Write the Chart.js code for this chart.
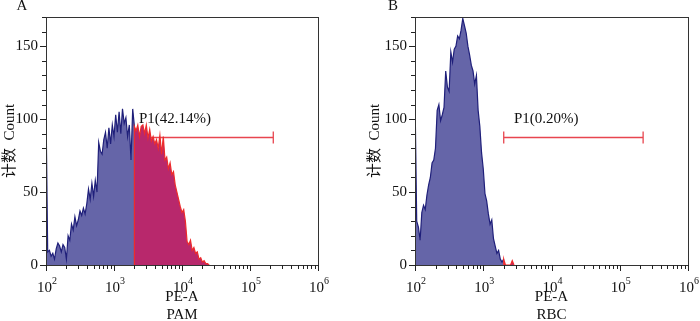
<!DOCTYPE html>
<html>
<head>
<meta charset="utf-8">
<script src="https://cdn.jsdelivr.net/npm/chart.js@4.4.1/dist/chart.umd.min.js"></script>
<style>
    body { margin: 0; background: #fff; width: 700px; height: 321px; overflow: hidden; position: relative; }
    .panel { position: absolute; top: 0; width: 350px; height: 321px; }
</style>
</head>
<body>
<div class="panel" style="left:0"><canvas id="chart-A"></canvas></div>
<div class="panel" style="left:350px"><canvas id="chart-B"></canvas></div>
<script>
// histogram channels: 40 bins per decade, first bin at 10^2
const binsPerDecade = 40;
const firstDecade = 2;
const gateStartBin = 52;        // P1 gate starts here (~2000)
const gateEnd = 220000;
const gateCount = 88;           // height where the gate bar is drawn

// PAM counts per bin
const countsPAM = [
    107, 9, 10, 6, 8, 4, 11, 15, 13, 9,
    14, 12, 4, 20, 17, 28, 24, 33, 27, 31,
    37, 34, 39, 35, 42, 52, 45, 56, 47, 58,
    50, 84, 78, 76, 86, 91, 80, 94, 83, 96,
    88, 103, 91, 105, 90, 107, 97, 101, 88, 96,
    72, 107, 95, 92, 96, 88, 95, 96, 90, 96,
    87, 93, 85, 88, 83, 86, 80, 89, 76, 88,
    72, 74, 66, 70, 62, 64, 55, 50, 45, 40,
    36, 38, 30, 16, 14, 17, 10, 12, 8, 9,
    4, 5, 2, 3, 1, 1, 0
];

// RBC counts per bin
const countsRBC = [
    116, 30, 26, 17, 36, 41, 38, 48, 55, 60,
    70, 72, 80, 106, 110, 99, 103, 108, 133, 122,
    119, 146, 139, 148, 150, 157, 155, 161, 169, 164,
    159, 150, 144, 137, 133, 124, 130, 106, 95, 77,
    66, 49, 44, 35, 28, 31, 18, 13, 8, 10,
    4, 2, 4, 0, 0, 0, 0, 3, 0
];

const panelLetters = ['A', 'B'];
const sampleNames = ['PAM', 'RBC'];
const gateLabels = ['P1(42.14%)', 'P1(0.20%)'];
const xTickExponents = ['2', '3', '4', '5', '6'];
const yTicks = [0, 50, 100, 150];

const FONT = '"Liberation Serif", "Noto Sans CJK SC", serif';
Chart.defaults.font.family = FONT;
Chart.defaults.color = '#111';

function binValue(i) {
    return Math.pow(10, firstDecade + i / binsPerDecade);
}

function toPoints(counts, from, to) {
    const pts = [];
    for (let i = from; i < to && i < counts.length; i++) {
        pts.push({ x: binValue(i), y: counts[i] });
    }
    return pts;
}

// box, tick marks, superscript x labels, gate bar and text
const decorPlugin = {
    id: 'decor',
    beforeDatasetsDraw(chart, args, opts) {
        const ctx = chart.ctx;
        const xs = chart.scales.x, ys = chart.scales.y;
        const x0 = xs.getPixelForValue(binValue(gateStartBin));
        const x1 = xs.getPixelForValue(gateEnd);
        const y = Math.round(ys.getPixelForValue(gateCount)) + 0.5;
        ctx.save();
        ctx.strokeStyle = '#e8464f';
        ctx.lineWidth = 1.3;
        ctx.beginPath();
        ctx.moveTo(x0, y); ctx.lineTo(x1, y);
        ctx.moveTo(x0, y - 6); ctx.lineTo(x0, y + 6);
        ctx.moveTo(x1, y - 6); ctx.lineTo(x1, y + 6);
        ctx.stroke();
        ctx.restore();
    },
    afterDraw(chart, args, opts) {
        const ctx = chart.ctx;
        const area = chart.chartArea;
        const xs = chart.scales.x, ys = chart.scales.y;
        ctx.save();
        ctx.strokeStyle = '#333';
        ctx.lineWidth = 1;
        ctx.strokeRect(Math.round(area.left) + 0.5, Math.round(area.top) + 0.5,
            Math.round(area.right - area.left), Math.round(area.bottom - area.top));

        ctx.strokeStyle = '#222';
        ctx.beginPath();
        // x ticks, log minors
        for (let e = 2; e <= 6; e++) {
            for (let m = 1; m <= 9; m++) {
                if (e === 6 && m > 1) break;
                const px = Math.round(xs.getPixelForValue(m * Math.pow(10, e))) + 0.5;
                const len = m === 1 ? 6 : 4;
                ctx.moveTo(px, area.bottom);
                ctx.lineTo(px, area.bottom + len);
            }
        }
        // y ticks every 10
        for (let v = 0; v <= ys.max; v += 10) {
            const py = Math.round(ys.getPixelForValue(v)) + 0.5;
            const len = v % 50 === 0 ? 6 : 4;
            ctx.moveTo(area.left, py);
            ctx.lineTo(area.left - len, py);
        }
        ctx.stroke();

        // 10^n labels
        ctx.fillStyle = '#111';
        ctx.textBaseline = 'alphabetic';
        xTickExponents.forEach(exp => {
            const px = xs.getPixelForValue(Math.pow(10, +exp));
            ctx.font = '15px ' + FONT;
            ctx.textAlign = 'right';
            ctx.fillText('10', px + 6, area.bottom + 27);
            ctx.font = '10px ' + FONT;
            ctx.textAlign = 'left';
            ctx.fillText(exp, px + 6, area.bottom + 19);
        });

        // panel letter
        ctx.font = '15px ' + FONT;
        ctx.textAlign = 'center';
        ctx.fillText(opts.letter, opts.letterX, 10);

        // gate label
        ctx.textAlign = 'left';
        ctx.textBaseline = 'middle';
        ctx.fillText(opts.gateText, xs.getPixelForValue(opts.gateTextAt), ys.getPixelForValue(100));
        ctx.restore();
    }
};

function createChart(idx, counts, yWidth, padRight, yTitlePad, letterX, gateTextAt) {
    const ctx = document.getElementById('chart-' + panelLetters[idx]).getContext('2d');
    new Chart(ctx, {
        type: 'line',
        data: {
            datasets: [
                {
                    data: [{ x: binValue(gateStartBin), y: 0 }].concat(toPoints(counts, gateStartBin, counts.length)),
                    borderColor: '#ee2b2b',
                    backgroundColor: '#b8286c',
                    borderWidth: 1.2,
                    fill: 'origin',
                    pointRadius: 0,
                    tension: 0,
                    order: 0
                },
                {
                    data: toPoints(counts, 0, gateStartBin + 1),
                    borderColor: '#1f1f7a',
                    backgroundColor: '#6565a8',
                    borderWidth: 1.2,
                    fill: 'origin',
                    pointRadius: 0,
                    tension: 0,
                    order: 1
                }
            ]
        },
        options: {
            responsive: true,
            maintainAspectRatio: false,
            animation: false,
            layout: { padding: { top: 8, right: padRight, left: 0, bottom: 0 } },
            scales: {
                x: {
                    type: 'logarithmic',
                    min: 100,
                    max: 1000000,
                    grid: { display: false, drawTicks: false },
                    border: { display: false },
                    ticks: { display: false },
                    title: {
                        display: true,
                        text: ['PE-A', sampleNames[idx]],
                        font: { size: 15 },
                        color: '#111',
                        padding: { top: 0, bottom: -3 }
                    },
                    afterFit: s => { s.height = 56; }
                },
                y: {
                    min: 0,
                    max: 170,
                    grid: { display: false, drawTicks: false },
                    border: { display: false },
                    ticks: {
                        stepSize: 50,
                        includeBounds: false,
                        padding: 8,
                        font: { size: 15 },
                        color: '#111',
                        callback: v => yTicks.includes(v) ? v : ''
                    },
                    title: {
                        display: true,
                        text: '计数  Count',
                        font: { size: 15 },
                        color: '#111',
                        padding: { top: yTitlePad, bottom: 0 }
                    },
                    afterFit: s => { s.width = yWidth; }
                }
            },
            plugins: {
                legend: { display: false },
                tooltip: { enabled: false },
                decor: { letter: panelLetters[idx], letterX: letterX, gateText: gateLabels[idx], gateTextAt: gateTextAt }
            }
        },
        plugins: [decorPlugin]
    });
}

document.addEventListener('DOMContentLoaded', () => {
    createChart(0, countsPAM, 46, 32, 1, 22, 2330);
    createChart(1, countsRBC, 65, 12, 16, 43, 2820);
});
</script>
</body>
</html>
